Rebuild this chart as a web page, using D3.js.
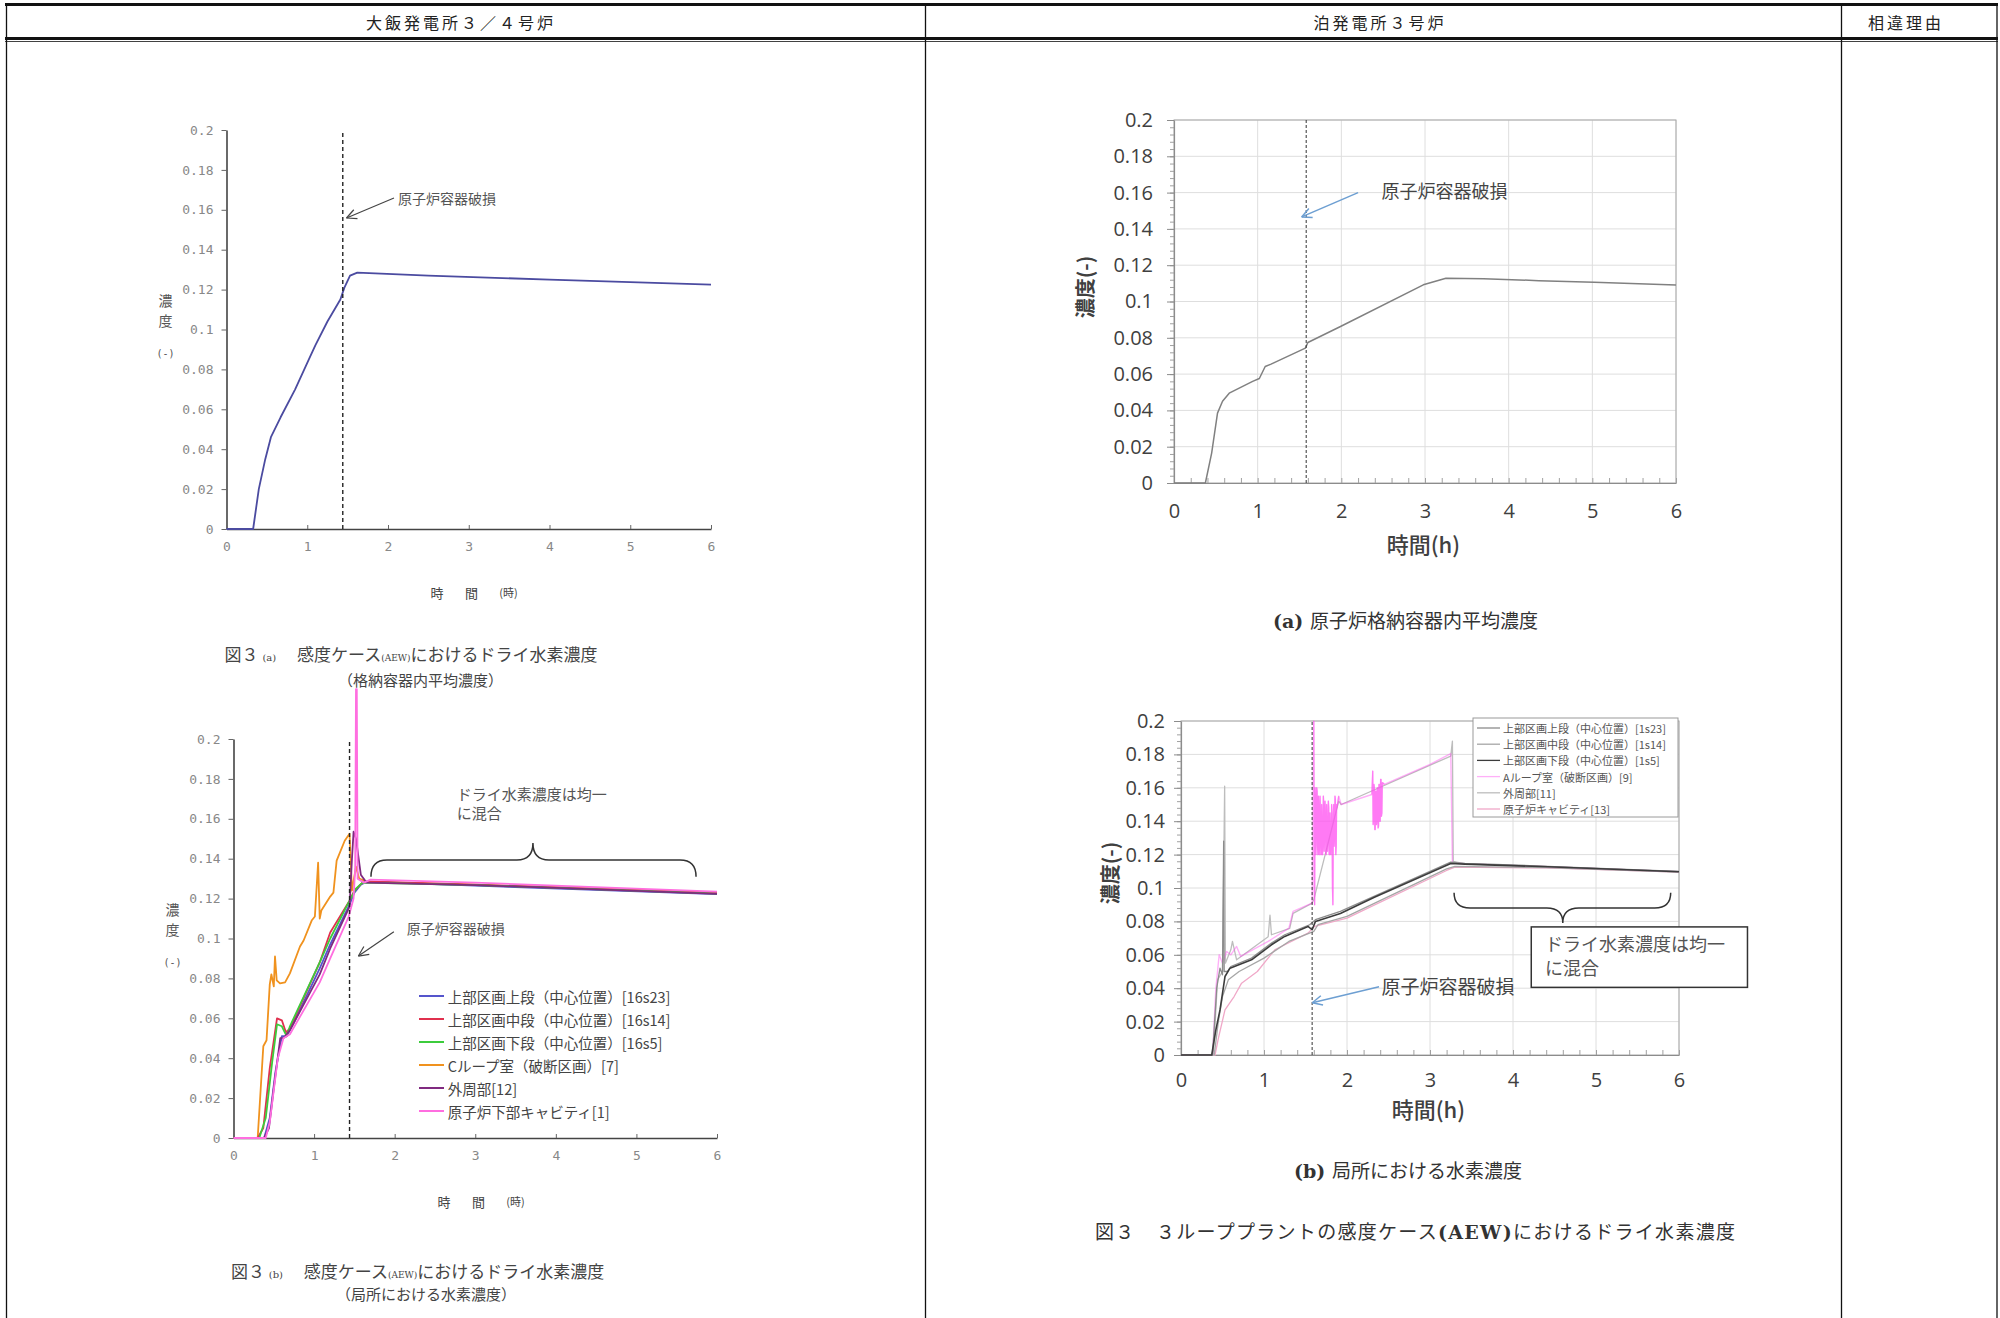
<!DOCTYPE html>
<html lang="ja">
<head>
<meta charset="UTF-8">
<title>感度ケース(AEW)におけるドライ水素濃度</title>
<script src="https://d3js.org/d3.v7.min.js"></script>
<style>
  body { margin: 0; background: #fff; }
  svg { display: block; }
</style>
</head>
<body>
<svg width="2000" height="1318"></svg>
<script>
// ---- shared ticks / labels ----
const xTicks = [0, 1, 2, 3, 4, 5, 6];
const yTicks = [0, 0.02, 0.04, 0.06, 0.08, 0.1, 0.12, 0.14, 0.16, 0.18, 0.2];
const headers = ["大飯発電所３／４号炉", "泊発電所３号炉", "相違理由"];

// ---- 大飯 図3(a) 格納容器内平均濃度 [time h, conc] ----
const ohiAvg = [[0, 0], [0.33, 0], [0.4, 0.02], [0.48, 0.035], [0.55, 0.046], [0.67, 0.056], [0.85, 0.07],
  [1.02, 0.085], [1.1, 0.092], [1.25, 0.104], [1.41, 0.115], [1.46, 0.121], [1.53, 0.127], [1.62, 0.1285],
  [2.5, 0.127], [4, 0.125], [6, 0.1225]];

// ---- 大飯 図3(b) 局所 ----
const ohiLegend = ["上部区画上段（中心位置）[16s23]", "上部区画中段（中心位置）[16s14]", "上部区画下段（中心位置）[16s5]",
  "Cループ室（破断区画）[7]", "外周部[12]", "原子炉下部キャビティ[1]"];
const ohiColors = ["#5555cc", "#e0304e", "#3ccc3c", "#f0921e", "#802a80", "#ff6ee0"];
const ohiUpperTop = [[0, 0], [0.38, 0], [0.45, 0.01], [0.52, 0.033], [0.6, 0.051], [0.66, 0.051], [0.75, 0.058],
  [1.07, 0.085], [1.2, 0.097], [1.44, 0.117], [1.5, 0.123], [1.58, 0.127], [1.65, 0.1285], [3, 0.1265], [6, 0.1222]];
const ohiUpperMid = [[0, 0], [0.3, 0], [0.37, 0.005], [0.45, 0.035], [0.54, 0.06], [0.6, 0.059], [0.65, 0.053],
  [0.7, 0.055], [1.07, 0.088], [1.2, 0.103], [1.44, 0.119], [1.5, 0.124], [1.6, 0.128], [1.7, 0.1285], [3, 0.127], [6, 0.1228]];
const ohiUpperLow = [[0, 0], [0.32, 0], [0.4, 0.01], [0.48, 0.038], [0.54, 0.057], [0.6, 0.056], [0.66, 0.051],
  [0.7, 0.056], [1.07, 0.088], [1.2, 0.1], [1.44, 0.119], [1.52, 0.125], [1.6, 0.128], [3, 0.1268], [6, 0.1225]];
const ohiLoopC = [[0, 0], [0.3, 0], [0.37, 0.046], [0.41, 0.049], [0.45, 0.077], [0.47, 0.082], [0.5, 0.076],
  [0.515, 0.091], [0.536, 0.079], [0.577, 0.0775], [0.64, 0.078], [0.7, 0.0825], [0.825, 0.096], [0.87, 0.099],
  [0.97, 0.109], [1.01, 0.111], [1.05, 0.138], [1.07, 0.11], [1.09, 0.114], [1.2, 0.121], [1.24, 0.123],
  [1.28, 0.139], [1.38, 0.149], [1.44, 0.1525], [1.47, 0.124], [1.52, 0.136], [1.56, 0.13], [1.65, 0.1285],
  [3, 0.127], [6, 0.1228]];
const ohiOuter = [[0, 0], [0.38, 0], [0.44, 0.005], [0.5, 0.025], [0.58, 0.05], [0.62, 0.05], [0.7, 0.054],
  [1.07, 0.082], [1.2, 0.095], [1.44, 0.116], [1.47, 0.14], [1.49, 0.1535], [1.52, 0.15], [1.58, 0.132],
  [1.65, 0.128], [3, 0.1268], [6, 0.1224]];
const ohiCavity = [[0, 0], [0.4, 0], [0.45, 0.008], [0.55, 0.04], [0.62, 0.05], [0.7, 0.052], [1.07, 0.078],
  [1.2, 0.09], [1.43, 0.111], [1.49, 0.12], [1.51, 0.135], [1.52, 0.225], [1.53, 0.225], [1.54, 0.13],
  [1.62, 0.128], [1.7, 0.1295], [3, 0.128], [6, 0.1235]];

// ---- 泊 (a) 原子炉格納容器内平均濃度 ----
const tomariAvg = [[0, 0], [0.375, 0], [0.45, 0.0165], [0.52, 0.0385], [0.58, 0.045], [0.66, 0.0495], [0.94, 0.056],
  [1.02, 0.0576], [1.09, 0.0642], [1.16, 0.0655], [1.57, 0.0743], [1.6, 0.0774], [1.99, 0.0862], [2.98, 0.1092],
  [3.25, 0.1128], [3.7, 0.1126], [4.36, 0.1115], [5.02, 0.1106], [6, 0.1091]];

// ---- 泊 (b) 局所 ----
const tomariLegend = ["上部区画上段（中心位置）[1s23]", "上部区画中段（中心位置）[1s14]", "上部区画下段（中心位置）[1s5]",
  "Aループ室（破断区画）[9]", "外周部[11]", "原子炉キャビティ[13]"];
const tomariColors = ["#8c8c8c", "#a6a6a6", "#3c3c3c", "#ff4ff0", "#bdbdbd", "#f0a8c8"];
const tomariUpperTop = [[0, 0], [0.38, 0], [0.43, 0.04], [0.47, 0.052], [0.5, 0.048], [0.514, 0.128], [0.52, 0.05],
  [0.56, 0.05], [0.6, 0.053], [0.85, 0.058], [1.09, 0.067], [1.25, 0.072], [1.55, 0.078], [1.62, 0.081],
  [1.92, 0.086], [3.25, 0.1155], [3.42, 0.1148], [4.42, 0.113], [6, 0.11]];
const tomariUpperMid = [[0, 0], [0.4, 0], [0.45, 0.02], [0.5, 0.035], [0.57, 0.045], [0.7, 0.05], [1.0, 0.058],
  [1.3, 0.068], [1.6, 0.074], [1.65, 0.078], [2.0, 0.083], [3.2, 0.1115], [3.3, 0.113], [4.4, 0.1122], [6, 0.1095]];
const tomariUpperLow = [[0, 0], [0.37, 0], [0.42, 0.015], [0.47, 0.027], [0.53, 0.047], [0.59, 0.052], [0.85, 0.057],
  [1.09, 0.066], [1.25, 0.071], [1.53, 0.077], [1.58, 0.075], [1.62, 0.08], [1.92, 0.0847], [2.33, 0.0945],
  [3.25, 0.1147], [3.42, 0.1143], [4.42, 0.1127], [6, 0.1097]];
const tomariLoopA = [[0, 0], [0.38, 0], [0.42, 0.04], [0.46, 0.06], [0.5, 0.055], [0.55, 0.062], [0.6, 0.06],
  [0.67, 0.065], [0.72, 0.059], [1.05, 0.068], [1.3, 0.076], [1.35, 0.086], [1.58, 0.091], [1.6, 0.2], [1.605, 0.1],
  [1.61, 0.09], [1.615, 0.16], [1.62, 0.155], [1.625, 0.12], [1.63, 0.13], [1.635, 0.16], [1.64, 0.158],
  [1.645, 0.125], [1.65, 0.12], [1.655, 0.155], [1.66, 0.15], [1.665, 0.12], [1.67, 0.125], [1.675, 0.155],
  [1.68, 0.145], [1.685, 0.12], [1.69, 0.12], [1.695, 0.15], [1.7, 0.14], [1.705, 0.12], [1.71, 0.125],
  [1.715, 0.155], [1.72, 0.15], [1.725, 0.122], [1.73, 0.13], [1.735, 0.152], [1.74, 0.145], [1.745, 0.12],
  [1.75, 0.12], [1.755, 0.15], [1.76, 0.14], [1.765, 0.122], [1.77, 0.128], [1.775, 0.152], [1.78, 0.148],
  [1.785, 0.12], [1.79, 0.12], [1.795, 0.145], [1.8, 0.135], [1.805, 0.12], [1.81, 0.125], [1.815, 0.15],
  [1.82, 0.145], [1.825, 0.1], [1.83, 0.09], [1.835, 0.14], [1.84, 0.15], [1.845, 0.125], [1.85, 0.13],
  [1.855, 0.155], [1.86, 0.153], [1.865, 0.12], [1.87, 0.125], [1.875, 0.15], [1.88, 0.148], [1.9, 0.155],
  [1.93, 0.15], [2.3, 0.156], [2.31, 0.17], [2.315, 0.138], [2.32, 0.14], [2.325, 0.162], [2.33, 0.16],
  [2.335, 0.135], [2.34, 0.135], [2.345, 0.158], [2.35, 0.158], [2.355, 0.138], [2.36, 0.14], [2.365, 0.16],
  [2.37, 0.16], [2.375, 0.136], [2.38, 0.137], [2.385, 0.162], [2.39, 0.162], [2.395, 0.14], [2.4, 0.14],
  [2.405, 0.165], [2.41, 0.165], [2.415, 0.143], [2.42, 0.145], [2.425, 0.163], [2.43, 0.163], [2.45, 0.162],
  [3.0, 0.174], [3.25, 0.1805], [3.27, 0.115], [3.42, 0.1145], [4.42, 0.1128], [6, 0.1098]];
const tomariOuter = [[0, 0], [0.39, 0], [0.44, 0.045], [0.5, 0.05], [0.526, 0.161], [0.535, 0.055], [0.6, 0.063],
  [0.62, 0.068], [0.67, 0.057], [1.05, 0.0708], [1.072, 0.0838], [1.09, 0.072], [1.31, 0.0758], [1.35, 0.0848],
  [1.575, 0.0908], [1.6, 0.093], [1.9, 0.152], [1.93, 0.15], [3.25, 0.179], [3.27, 0.188], [3.28, 0.116],
  [3.42, 0.1145], [4.42, 0.1128], [6, 0.1098]];
const tomariCavity = [[0, 0], [0.41, 0], [0.45, 0.01], [0.53, 0.027], [0.64, 0.035], [0.73, 0.043], [0.92, 0.05],
  [1.13, 0.063], [1.53, 0.073], [1.61, 0.077], [2.0, 0.082], [3.2, 0.1105], [3.3, 0.1125], [4.4, 0.112], [6, 0.1095]];

// ---- drawing ----
const svg = d3.select("svg");
const JP = '"Noto Sans CJK JP", sans-serif';
const MONO = '"DejaVu Sans Mono", "Liberation Mono", monospace';
const SANS = '"Open Sans", "Noto Sans", sans-serif';
const SERIF = '"DejaVu Serif", serif';
const fmtY = d => d === 0 ? "0" : d3.format(".2~f")(d);
const fmtX = d3.format("d");

function addText(g, x, y, str, size, o = {}) {
  const t = g.append("text").attr("x", x).attr("y", y).attr("font-size", size)
    .attr("font-family", o.family || JP).attr("fill", o.fill || "#333")
    .attr("text-anchor", o.anchor || "start").attr("dominant-baseline", "central").text(str);
  if (o.weight) t.attr("font-weight", o.weight);
  if (o.len) t.attr("textLength", o.len).attr("lengthAdjust", "spacing");
  if (o.ls) t.attr("letter-spacing", o.ls);
  return t;
}

// text made of runs with different sizes / fonts on one baseline
function runs(g, x, yMid, parts, fill) {
  const t = g.append("text").attr("x", x).attr("y", yMid + 6).attr("font-family", JP).attr("fill", fill);
  parts.forEach(p => {
    const s = t.append("tspan").attr("font-size", p[1]).text(p[0]);
    if (p[2]) s.attr("font-family", p[2]);
    if (p[3]) s.attr("font-weight", p[3]);
  });
  return t;
}

function arrow(g, p1, p2, color, w) {
  g.append("line").attr("x1", p1[0]).attr("y1", p1[1]).attr("x2", p2[0]).attr("y2", p2[1])
    .attr("stroke", color).attr("stroke-width", w);
  const ang = Math.atan2(p2[1] - p1[1], p2[0] - p1[0]);
  [ang + Math.PI - 0.45, ang + Math.PI + 0.45].forEach(t => {
    g.append("line").attr("x1", p2[0]).attr("y1", p2[1])
      .attr("x2", p2[0] + 11 * Math.cos(t)).attr("y2", p2[1] + 11 * Math.sin(t))
      .attr("stroke", color).attr("stroke-width", w);
  });
}

function brace(g, xa, xb, yEnd, yFlat, tipX, yTip) {
  const c = 16;
  g.append("path").attr("fill", "none").attr("stroke", "#333").attr("stroke-width", 1.5)
    .attr("d", `M${xa},${yEnd} Q${xa},${yFlat} ${xa + c},${yFlat} L${tipX - c},${yFlat} Q${tipX},${yFlat} ${tipX},${yTip}` +
      ` Q${tipX},${yFlat} ${tipX + c},${yFlat} L${xb - c},${yFlat} Q${xb},${yFlat} ${xb},${yEnd}`);
}

function drawLines(g, x, y, series) {
  const line = d3.line().x(d => x(d[0])).y(d => y(d[1]));
  series.forEach(s => {
    g.append("path").datum(s.data).attr("fill", "none").attr("stroke", s.color)
      .attr("stroke-width", s.w).attr("stroke-opacity", s.op || 1)
      .attr("stroke-linejoin", "round").attr("d", line);
  });
}

// table frame
const table = svg.append("g").attr("stroke", "#111");
[6.5, 925.5, 1841.5, 1997].forEach(xp => table.append("line")
  .attr("x1", xp).attr("x2", xp).attr("y1", 3).attr("y2", 1318).attr("stroke-width", 1.3));
table.append("line").attr("x1", 5).attr("x2", 1998).attr("y1", 4.5).attr("y2", 4.5).attr("stroke-width", 3);
table.append("line").attr("x1", 5).attr("x2", 1998).attr("y1", 38.5).attr("y2", 38.5).attr("stroke-width", 3);
table.append("line").attr("x1", 5).attr("x2", 1998).attr("y1", 41.5).attr("y2", 41.5).attr("stroke-width", 0.8);
[461, 1380, 1906].forEach((cx, i) => addText(svg, cx, 22, headers[i], 16, { anchor: "middle", fill: "#222", ls: 3 }));

// ---- Ohi chart helper ----
function ohiChart(x, y, series, dashX) {
  const g = svg.append("g");
  const ya = g.append("g").attr("transform", `translate(${x(0)},0)`)
    .call(d3.axisLeft(y).tickValues(yTicks).tickFormat(fmtY).tickSizeInner(5).tickSizeOuter(0).tickPadding(8));
  const xa = g.append("g").attr("transform", `translate(0,${y(0)})`)
    .call(d3.axisBottom(x).tickValues(xTicks).tickFormat(fmtX).tickSizeInner(-4).tickSizeOuter(0).tickPadding(13));
  [ya, xa].forEach(a => {
    a.attr("font-family", MONO).attr("font-size", 13);
    a.select(".domain").attr("stroke", "#444").attr("stroke-width", 1.6);
    a.selectAll(".tick line").attr("stroke", "#666");
    a.selectAll(".tick text").attr("fill", "#888");
  });
  drawLines(g, x, y, series);
  g.append("line").attr("x1", x(dashX)).attr("x2", x(dashX)).attr("y1", y(0)).attr("y2", y(0.2))
    .attr("stroke", "#222").attr("stroke-width", 1.4).attr("stroke-dasharray", "4,3");
  // axis titles (vertical stacked)
  const x0 = x(0);
  addText(g, x0 - 61, y(0.115), "濃", 14, { anchor: "middle", fill: "#555" });
  addText(g, x0 - 61, y(0.105), "度", 14, { anchor: "middle", fill: "#555" });
  addText(g, x0 - 61, y(0.088), "(-)", 10, { anchor: "middle", fill: "#555", family: MONO });
  const ly = y(0) + 63;
  addText(g, x0 + 210.5, ly, "時", 13, { anchor: "middle", fill: "#444" });
  addText(g, x0 + 245, ly, "間", 13, { anchor: "middle", fill: "#444" });
  addText(g, x0 + 282, ly, "(時)", 11, { anchor: "middle", fill: "#444" });
  return g;
}

// Ohi (a)
const xOa = d3.scaleLinear().domain([0, 6]).range([226.5, 711]);
const yOa = d3.scaleLinear().domain([0, 0.2]).range([529, 130]);
const gOa = ohiChart(xOa, yOa, [{ data: ohiAvg, color: "#4b4ba0", w: 1.8 }], 1.44);
addText(gOa, xOa(2.124), yOa(0.1659), "原子炉容器破損", 14, { fill: "#555" });
arrow(gOa, [xOa(2.074), yOa(0.1659)], [xOa(1.486), yOa(0.1559)], "#444", 1.2);
runs(svg, 224.6, 655, [["図３ ", 17], ["(a)", 10, SERIF], ["　 感度ケース", 17], ["(AEW)", 9, SERIF],
  ["におけるドライ水素濃度", 17]], "#444");
addText(svg, 338, 679, "（格納容器内平均濃度）", 15, { fill: "#444" });

// Ohi (b)
const xOb = d3.scaleLinear().domain([0, 6]).range([233.5, 717]);
const yOb = d3.scaleLinear().domain([0, 0.2]).range([1138, 739]);
const ohiSeries = [ohiLoopC, ohiUpperTop, ohiUpperMid, ohiUpperLow, ohiOuter, ohiCavity];
const ohiIdx = [3, 0, 1, 2, 4, 5];
const gOb = ohiChart(xOb, yOb, ohiSeries.map((d, i) => ({ data: d, color: ohiColors[ohiIdx[i]], w: 1.8 })), 1.44);
brace(gOb, xOb(1.706), xOb(5.74), yOb(0.131), yOb(0.1394), xOb(3.716), yOb(0.1479));
addText(gOb, xOb(2.77), yOb(0.1725), "ドライ水素濃度は均一", 15, { fill: "#555" });
addText(gOb, xOb(2.77), yOb(0.1632), "に混合", 15, { fill: "#555" });
addText(gOb, xOb(2.15), yOb(0.1054), "原子炉容器破損", 14, { fill: "#555" });
arrow(gOb, [xOb(1.99), yOb(0.1034)], [xOb(1.55), yOb(0.0912)], "#444", 1.2);
ohiLegend.forEach((lab, i) => {
  const ly = 996 + i * 23;
  gOb.append("line").attr("x1", 419).attr("x2", 444).attr("y1", ly).attr("y2", ly)
    .attr("stroke", ohiColors[i]).attr("stroke-width", 2);
  addText(gOb, 447.7, ly, lab, 14.5, { fill: "#444" });
});
runs(svg, 231, 1271.7, [["図３ ", 17], ["(b)", 10, SERIF], ["　 感度ケース", 17], ["(AEW)", 9, SERIF],
  ["におけるドライ水素濃度", 17]], "#444");
addText(svg, 336, 1293, "（局所における水素濃度）", 15, { fill: "#444" });

// ---- Tomari chart helper ----
function tomariChart(x, y, series, dashX, padY, padX) {
  const g = svg.append("g");
  g.append("g").selectAll("line").data(yTicks.slice(1)).join("line")
    .attr("x1", x(0)).attr("x2", x(6)).attr("y1", d => y(d)).attr("y2", d => y(d)).attr("stroke", "#dedede");
  g.append("g").selectAll("line").data(xTicks.slice(1)).join("line")
    .attr("x1", d => x(d)).attr("x2", d => x(d)).attr("y1", y(0)).attr("y2", y(0.2)).attr("stroke", "#dedede");
  g.append("rect").attr("x", x(0)).attr("y", y(0.2)).attr("width", x(6) - x(0)).attr("height", y(0) - y(0.2))
    .attr("fill", "none").attr("stroke", "#a8a8a8");
  const ym = g.append("g").attr("transform", `translate(${x(0)},0)`)
    .call(d3.axisLeft(y).tickValues(d3.range(0, 0.2001, 0.004)).tickSize(4).tickFormat(""));
  const xm = g.append("g").attr("transform", `translate(0,${y(0)})`)
    .call(d3.axisBottom(x).tickValues(d3.range(0, 6.001, 0.2)).tickSize(-5).tickFormat(""));
  [ym, xm].forEach(a => { a.select(".domain").remove(); a.selectAll("line").attr("stroke", "#a0a0a0"); });
  const ya = g.append("g").attr("transform", `translate(${x(0)},0)`)
    .call(d3.axisLeft(y).tickValues(yTicks).tickFormat(fmtY).tickSizeInner(7).tickSizeOuter(0).tickPadding(padY));
  const xa = g.append("g").attr("transform", `translate(0,${y(0)})`)
    .call(d3.axisBottom(x).tickValues(xTicks).tickFormat(fmtX).tickSizeInner(0).tickSizeOuter(0).tickPadding(padX));
  [ya, xa].forEach(a => {
    a.attr("font-family", SANS).attr("font-size", 20);
    a.select(".domain").attr("stroke", "#8c8c8c").attr("stroke-width", 1.2);
    a.selectAll(".tick line").attr("stroke", "#8c8c8c");
    a.selectAll(".tick text").attr("fill", "#404040");
  });
  drawLines(g, x, y, series);
  g.append("line").attr("x1", x(dashX)).attr("x2", x(dashX)).attr("y1", y(0)).attr("y2", y(0.2))
    .attr("stroke", "#333").attr("stroke-width", 1).attr("stroke-dasharray", "3,2");
  return g;
}

// Tomari (a)
const xTa = d3.scaleLinear().domain([0, 6]).range([1174, 1676]);
const yTa = d3.scaleLinear().domain([0, 0.2]).range([483, 120]);
const gTa = tomariChart(xTa, yTa, [{ data: tomariAvg, color: "#808080", w: 1.5 }], 1.58, 14, 21);
addText(gTa, 0, 0, "濃度(-)", 20, { anchor: "middle", fill: "#404040", weight: 700 })
  .attr("transform", `translate(1084,${yTa(0.108)}) rotate(-90)`);
addText(gTa, xTa(2.98), yTa(0) + 60, "時間(h)", 22, { anchor: "middle", fill: "#404040", weight: 500 });
addText(gTa, xTa(2.48), yTa(0.1617), "原子炉容器破損", 18, { fill: "#444" });
arrow(gTa, [xTa(2.2), yTa(0.16)], [xTa(1.526), yTa(0.1466)], "#6d9fd2", 1.5);
runs(svg, 1273, 622, [["(a) ", 19, SERIF, 700], ["原子炉格納容器内平均濃度", 19]], "#333");

// Tomari (b)
const xTb = d3.scaleLinear().domain([0, 6]).range([1181, 1679]);
const yTb = d3.scaleLinear().domain([0, 0.2]).range([1055, 721]);
const tomariSeries = [
  { data: tomariCavity, color: tomariColors[5], w: 1.3 },
  { data: tomariUpperMid, color: tomariColors[1], w: 1.3 },
  { data: tomariOuter, color: tomariColors[4], w: 1.3 },
  { data: tomariLoopA, color: tomariColors[3], w: 1.4, op: 0.45 },
  // the densely oscillating stretches of the same series read as solid magenta in the original
  { data: tomariLoopA.filter(d => d[0] >= 1.6 && d[0] <= 1.9), color: tomariColors[3], w: 1.2, op: 0.55 },
  { data: tomariLoopA.filter(d => d[0] >= 2.3 && d[0] <= 2.45), color: tomariColors[3], w: 1.2, op: 0.55 },
  { data: tomariUpperTop, color: tomariColors[0], w: 1.3 },
  { data: tomariUpperLow, color: tomariColors[2], w: 1.6 }
];
const gTb = tomariChart(xTb, yTb, tomariSeries, 1.58, 9, 18);
addText(gTb, 0, 0, "濃度(-)", 20, { anchor: "middle", fill: "#404040", weight: 700 })
  .attr("transform", `translate(1109,${yTb(0.109)}) rotate(-90)`);
addText(gTb, xTb(2.98), yTb(0) + 53, "時間(h)", 22, { anchor: "middle", fill: "#404040", weight: 500 });
addText(gTb, xTb(2.416), yTb(0.0419), "原子炉容器破損", 19, { fill: "#444" });
arrow(gTb, [xTb(2.386), yTb(0.0409)], [xTb(1.582), yTb(0.0313)], "#6d9fd2", 1.5);
brace(gTb, xTb(3.29), xTb(5.9), yTb(0.0971), yTb(0.088), xTb(4.6), yTb(0.0791));
gTb.append("rect").attr("x", xTb(4.22)).attr("y", yTb(0.0767))
  .attr("width", xTb(6.825) - xTb(4.22)).attr("height", yTb(0.0405) - yTb(0.0767))
  .attr("fill", "#fff").attr("stroke", "#333").attr("stroke-width", 1.5);
addText(gTb, xTb(4.386), yTb(0.067), "ドライ水素濃度は均一", 18, { fill: "#555" });
addText(gTb, xTb(4.386), yTb(0.0528), "に混合", 18, { fill: "#555" });
// legend
const leg = gTb.append("g");
leg.append("rect").attr("x", 1473).attr("y", 718).attr("width", 205).attr("height", 99)
  .attr("fill", "#fff").attr("stroke", "#9a9a9a");
tomariLegend.forEach((lab, i) => {
  const ly = 728 + i * 16.2;
  leg.append("line").attr("x1", 1477).attr("x2", 1500).attr("y1", ly).attr("y2", ly)
    .attr("stroke", tomariColors[i]).attr("stroke-width", 1.3).attr("stroke-opacity", i === 3 ? 0.45 : 1);
  addText(leg, 1503, ly, lab, 11, { fill: "#555" });
});
runs(svg, 1294, 1172, [["(b) ", 19, SERIF, 700], ["局所における水素濃度", 19]], "#333");
const capF = runs(svg, 1095, 1233, [["図３　３ループプラントの感度ケース", 19], ["(AEW)", 19, SERIF, 700],
  ["におけるドライ水素濃度", 19]], "#333");
capF.attr("textLength", 640).attr("lengthAdjust", "spacing");
</script>
</body>
</html>
